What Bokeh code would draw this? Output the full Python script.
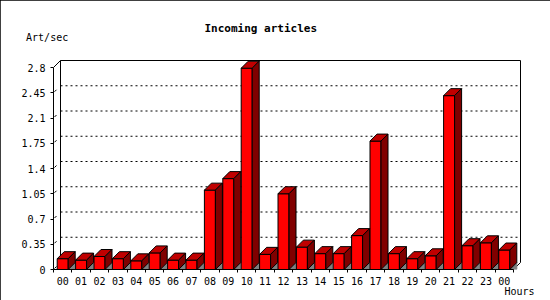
from bokeh.plotting import figure
from bokeh.models import Range1d, FixedTicker, Title, LinearAxis
from bokeh.embed import file_html
from bokeh.resources import INLINE

# ---- data ----
hours = ["00", "01", "02", "03", "04", "05", "06", "07", "08", "09", "10", "11",
         "12", "13", "14", "15", "16", "17", "18", "19", "20", "21", "22", "23", "00"]
rate = [0.15, 0.13, 0.18, 0.15, 0.12, 0.23, 0.13, 0.13, 1.10, 1.26, 2.79, 0.21,
        1.05, 0.31, 0.22, 0.22, 0.47, 1.78, 0.22, 0.15, 0.19, 2.41, 0.33, 0.37, 0.27]
y_ticks = [0, 0.35, 0.7, 1.05, 1.4, 1.75, 2.1, 2.45, 2.8]
y_labels = ["0", "0.35", "0.7", "1.05", "1.4", "1.75", "2.1", "2.45", "2.8"]
title_text = "Incoming articles"
y_title = "Art/sec"
x_title = "Hours"

# ---- layout constants (pixels) ----
W, H = 550, 300
FL, FR, FT, FB = 53, 522, 58, 269          # frame edges on canvas
SX = 18.4                                   # px per category
SY = 72.14                                  # px per unit
DEPTH = 7                                   # 3d depth in px
FONT = "DejaVu Sans Mono"

n = len(rate)
ymax = y_ticks[-1]
dx = DEPTH / SX
dy = DEPTH / SY
hw = 5.5 / SX

x0 = -0.5
x_end = x0 + (FR - FL) / SX
y_end = (FB - FT) / SY

p = figure(width=W, height=H, output_backend="svg", toolbar_location=None,
           x_range=Range1d(x0, x_end), y_range=Range1d(0, y_end),
           min_border_left=FL, min_border_right=W - FR,
           min_border_top=FT, min_border_bottom=H - FB)
p.outline_line_color = None
p.background_fill_color = "white"
p.border_fill_color = "white"
p.xgrid.visible = False
p.ygrid.visible = False
p.styles = {"outline": "1px solid black", "outline-offset": "-1px"}

xs = list(range(n))

# ---- back panel ----
bx0, bx1 = x0 + dx, n - 0.5 + dx
grid_vals = y_ticks[1:-1]
p.segment(x0=[bx0] * len(grid_vals), x1=[bx1] * len(grid_vals),
          y0=[v + dy for v in grid_vals], y1=[v + dy for v in grid_vals],
          line_color="black", line_width=1, line_dash="2 3")
p.segment(x0=[bx0, bx0, bx1], x1=[bx0, bx1, bx1],
          y0=[dy, ymax + dy, dy], y1=[ymax + dy, ymax + dy, ymax + dy],
          line_color="black", line_width=1)
p.segment(x0=[x0, n - 0.5], x1=[bx0, bx1], y0=[ymax, 0], y1=[ymax + dy, dy],
          line_color="black", line_width=1)
p.segment(x0=[x0 + 1 / SX] * (len(y_ticks) - 1), x1=[x0 + 3 / SX] * (len(y_ticks) - 1),
          y0=[v + 1 / SY for v in y_ticks[:-1]], y1=[v + 3 / SY for v in y_ticks[:-1]],
          line_color="black", line_width=1)

# ---- bars ----
shadow_xs = [[x + hw, x + hw + dx, x + hw + dx] for x in xs]
shadow_ys = [[0, dy, 0] for _ in xs]
p.patches(shadow_xs, shadow_ys, fill_color="#808080", line_color="#808080", line_width=1)

p.quad(left=[x - hw for x in xs], right=[x + hw for x in xs],
       bottom=[0] * n, top=rate, fill_color="#ff0000", line_color="black", line_width=1)

top_xs = [[x - hw, x + hw, x + hw + dx, x - hw + dx] for x in xs]
top_ys = [[v, v, v + dy, v + dy] for v in rate]
p.patches(top_xs, top_ys, fill_color="#c00000", line_color="black", line_width=1)

side_xs = [[x + hw, x + hw, x + hw + dx, x + hw + dx] for x in xs]
side_ys = [[0, v, v + dy, dy] for v in rate]
p.patches(side_xs, side_ys, fill_color="#800000", line_color="black", line_width=1)

# ---- axes ----
xa = p.xaxis[0]
xa.ticker = FixedTicker(ticks=xs, minor_ticks=[x - 0.5 for x in xs] + [n - 0.5])
xa.major_label_overrides = {i: h for i, h in enumerate(hours)}
xa.bounds = (x0, n - 0.5)
xa.major_tick_out = 0
xa.major_tick_in = 0
xa.minor_tick_out = 3
xa.minor_tick_in = 0
xa.major_label_standoff = 4
xa.major_label_text_font = FONT
xa.major_label_text_font_size = "10px"
xa.major_label_text_color = "black"
xa.axis_line_color = "black"

ya = p.yaxis[0]
ya.ticker = FixedTicker(ticks=y_ticks, minor_ticks=[])
ya.major_label_overrides = {v: s for v, s in zip(y_ticks, y_labels)}
ya.bounds = (0, ymax)
ya.major_tick_out = 3
ya.major_tick_in = 0
ya.minor_tick_out = 0
ya.minor_tick_in = 0
ya.major_label_standoff = 5
ya.major_label_text_font = FONT
ya.major_label_text_font_size = "10px"
ya.major_label_text_color = "black"
ya.axis_line_color = "black"

# unit caption above the value axis, right-aligned at a fixed spot
unit_pos = 0.3
unit_axis = LinearAxis(ticker=FixedTicker(ticks=[unit_pos], minor_ticks=[]),
                       major_label_overrides={unit_pos: y_title},
                       axis_line_color=None, major_tick_line_color=None,
                       minor_tick_line_color=None, major_tick_out=0, major_tick_in=0,
                       major_label_standoff=21, major_label_orientation=-1e-4,
                       major_label_text_font=FONT, major_label_text_font_size="10px",
                       major_label_text_color="black")
p.add_layout(unit_axis, "above")

# ---- texts ----
p.title.text = title_text
p.title.align = "left"
p.title.offset = 204 - FL
p.title.standoff = -23
p.title.text_font = FONT
p.title.text_font_size = "11px"
p.title.text_font_style = "bold"
p.title.text_color = "black"
p.title.text_line_height = 1.0

t_hours = Title(text=x_title, align="left", offset=504 - FL, standoff=-4,
                vertical_align="top",
                text_font=FONT, text_font_size="10px", text_font_style="normal",
                text_color="black", text_line_height=1.0)
p.add_layout(t_hours, "below")

open("out.html", "w").write(file_html(p, INLINE))
